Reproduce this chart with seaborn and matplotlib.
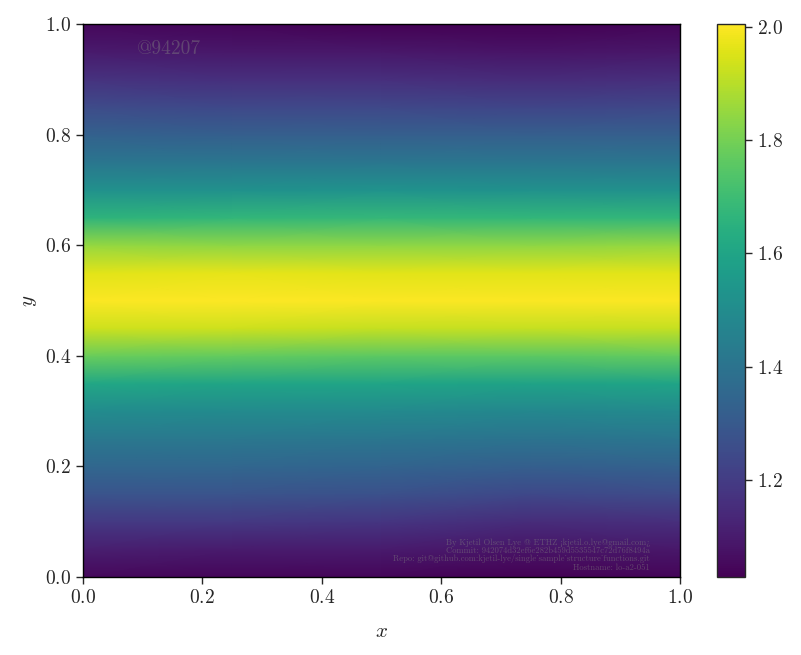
import numpy as np
import matplotlib
matplotlib.use('Agg')
import matplotlib.pyplot as plt
import seaborn as sns

# grid nodes (x across, y up) of the averaged field
x_nodes = [0.0, 0.25, 0.5, 0.75, 1.0]
y_nodes = [0.00, 0.05, 0.10, 0.15, 0.20, 0.25, 0.30, 0.35, 0.40, 0.45, 0.50,
           0.55, 0.60, 0.65, 0.70, 0.75, 0.80, 0.85, 0.90, 0.95, 1.00]

# one vertical profile per x node (bottom -> top)
col_x000 = [1.05, 1.11, 1.19, 1.28, 1.35, 1.42, 1.50, 1.61, 1.78, 1.93, 2.00,
            1.96, 1.85, 1.66, 1.52, 1.41, 1.33, 1.25, 1.17, 1.10, 1.05]
col_x025 = [1.04, 1.10, 1.19, 1.28, 1.35, 1.42, 1.49, 1.60, 1.77, 1.93, 2.005,
            1.97, 1.84, 1.67, 1.52, 1.41, 1.32, 1.24, 1.16, 1.09, 1.04]
col_x050 = [1.04, 1.10, 1.18, 1.27, 1.34, 1.41, 1.49, 1.60, 1.76, 1.92, 2.00,
            1.96, 1.84, 1.68, 1.53, 1.41, 1.32, 1.24, 1.16, 1.09, 1.03]
col_x075 = [1.03, 1.08, 1.15, 1.24, 1.32, 1.40, 1.48, 1.59, 1.76, 1.92, 2.00,
            1.96, 1.84, 1.67, 1.52, 1.41, 1.32, 1.23, 1.15, 1.08, 1.028]
col_x100 = [1.04, 1.09, 1.16, 1.25, 1.33, 1.41, 1.49, 1.60, 1.77, 1.92, 2.00,
            1.96, 1.85, 1.67, 1.52, 1.41, 1.32, 1.24, 1.16, 1.09, 1.04]

cbar_ticks = [1.2, 1.4, 1.6, 1.8, 2.0]
watermark = '@94207'
footer = ('By Kjetil Olsen Lye @ ETHZ <kjetil.o.lye@gmail.com>\n'
          'Commit: 942074d32ef6e282b459d5535547c72d76f8494a\n'
          'Repo: git@github.com:kjetil-lye/single_sample_structure_functions.git\n'
          'Hostname: lo-a2-051')

sns.set_style('ticks')
plt.rcParams['font.family'] = ['cmr10', 'DejaVu Serif']
plt.rcParams['mathtext.fontset'] = 'cm'
plt.rcParams['axes.formatter.use_mathtext'] = True
plt.rcParams['axes.unicode_minus'] = False
plt.rcParams['xtick.direction'] = 'out'
plt.rcParams['ytick.direction'] = 'out'

field = np.array([col_x000, col_x025, col_x050, col_x075, col_x100]).T
X, Y = np.meshgrid(x_nodes, y_nodes)

fig = plt.figure(figsize=(8.01, 6.55), dpi=100)
ax = fig.add_axes([0.1036, 0.119, 0.7453, 0.844])
cax = fig.add_axes([0.895, 0.119, 0.035, 0.844])

mesh = ax.pcolormesh(X, Y, field, shading='gouraud',
                     cmap=sns.color_palette('viridis', as_cmap=True))
ax.set_xlim(0, 1)
ax.set_ylim(0, 1)
ax.set_xlabel('$x$', fontsize=15, labelpad=12)
ax.set_ylabel('$y$', fontsize=15, labelpad=4)
ax.tick_params(labelsize=14, width=1, length=5)
for s in ax.spines.values():
    s.set_linewidth(1)
    s.set_color('black')

cb = fig.colorbar(mesh, cax=cax)
cb.set_ticks(cbar_ticks)
cb.ax.tick_params(labelsize=14, width=1, length=5)
cb.outline.set_linewidth(1)

ax.text(0.09, 0.955, watermark, transform=ax.transAxes, fontsize=14,
        color='gray', alpha=0.45, va='center', ha='left')
ax.text(0.95, 0.010, footer, transform=ax.transAxes, fontsize=6.2,
        color='gray', alpha=0.5, va='bottom', ha='right', multialignment='right',
        linespacing=0.95)

fig.savefig('out.png', dpi=100)
